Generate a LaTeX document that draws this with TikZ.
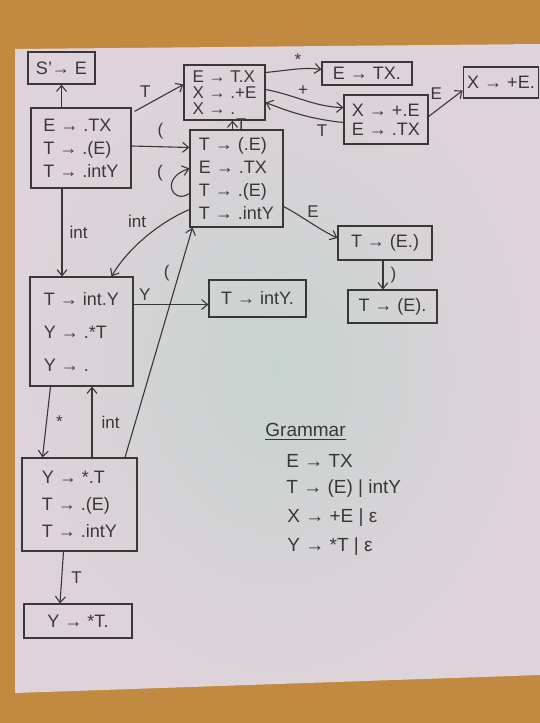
\documentclass[tikz,border=0pt]{standalone}
\usepackage{fontspec}
\setmainfont{Liberation Sans}
\usetikzlibrary{arrows.meta,calc}

\definecolor{cork}{HTML}{C28A40}
\definecolor{paperedge}{HTML}{DED3DA}
\definecolor{papermid}{HTML}{C8D3CF}
\definecolor{ink}{HTML}{3A3739}

\tikzset{
  state/.style={draw=ink, line width=0.6pt, inner sep=2pt, align=left, text=ink,
                font=\fontsize{9}{11.5}\selectfont},
  arr/.style={draw=ink, line width=0.55pt, -{Straight Barb[length=3pt,width=5pt]}},
  lbl/.style={text=ink, font=\fontsize{8.5}{10}\selectfont, inner sep=1.5pt},
  gram/.style={text=ink, anchor=west, inner sep=0pt, font=\fontsize{9.5}{11}\selectfont}
  }

\begin{document}
\begin{tikzpicture}[x=0.5pt,y=-0.5pt]
   \useasboundingbox (0,0) rectangle (540,723);
   % board and sheet
   \fill[cork] (0,0) rectangle (540,723);
   \shade[inner color=papermid, outer color=paperedge]
      (15,49) -- (540,44) -- (540,675) -- (15,693) -- cycle;

   % item sets
   \node[state, minimum width=33.5pt, minimum height=16pt] (sE) at (61.5,68) {S'→ E};
   \node[state, minimum width=50pt, minimum height=40pt] (I0) at (81,148)
      {E → .TX\\T → .(E)\\T → .intY};
   \node[state, minimum width=40.5pt, minimum height=27.5pt, font=\fontsize{8.5}{8}\selectfont]
      (IT) at (224.5,92.5) {E → T.X\\X → .+E\\X → .};
   \node[state, minimum width=46.5pt, minimum height=48.5pt] (Ip) at (236.5,178.5)
      {T → (.E)\\E → .TX\\T → .(E)\\T → .intY};
   \node[state, minimum width=45pt, minimum height=11.5pt, inner sep=1pt] (ETX) at (367,73.5) {E → TX.};
   \node[state, minimum width=42pt, minimum height=24.5pt, font=\fontsize{9}{9.5}\selectfont]
      (Iplus) at (386,119.5) {X → +.E\\E → .TX};
   \node[state, minimum width=36pt, minimum height=15.5pt] (XpE) at (501,82.5) {X → +E.};
   \node[state, minimum width=47pt, minimum height=17pt] (TEd) at (385,243) {T → (E.)};
   \node[state, minimum width=44.5pt, minimum height=16.5pt] (TEr) at (392.5,306.5) {T → (E).};
   \node[state, minimum width=51.5pt, minimum height=54.5pt, font=\fontsize{9}{16.5}\selectfont]
      (Iint) at (81.5,331.5) {T → int.Y\\Y → .*T\\Y → .};
   \node[state, minimum width=48.5pt, minimum height=18.5pt] (TintY) at (257.5,298.5) {T → intY.};
   \node[state, minimum width=57.5pt, minimum height=46.5pt, font=\fontsize{9}{13.5}\selectfont]
      (Istar) at (79.5,504.5) {Y → *.T\\T → .(E)\\T → .intY};
   \node[state, minimum width=54pt, minimum height=17pt] (YsT) at (78,621) {Y → *T.};

   % transitions
   \draw[arr] (sE.south |- I0.north) -- (sE.south);
   \draw[arr] ($(I0.north east)+(3,4)$) -- node[lbl, pos=0.4, above left] {T} ($(IT.west)+(0,-8)$);
   \draw[arr] ($(I0.east)+(0,-2)$) -- node[lbl, pos=0.5, above=2pt] {(} ($(Ip.west)+(0,-31)$);
   \draw[arr] ($(Ip.west)+(0,15)$) .. controls (172,205) and (160,178) .. ($(Ip.west)+(0,-10)$)
      node[lbl] at (160,173) {(};
   \draw[arr] ($(Ip.north)+(-4,0)$) -- node[lbl, right] {T} ($(IT.south)+(8,0)$);
   \draw[arr] ($(IT.east)+(0,-20)$) .. controls (290,70) and (305,67) .. ($(ETX.west)+(0,-4)$)
      node[lbl] at (298,60) {*};
   \draw[arr] ($(IT.east)+(0,-3)$) .. controls (295,95) and (315,107) .. ($(Iplus.west)+(0,-12)$)
      node[lbl] at (303,91) {+};
   \draw[arr] ($(Iplus.west)+(0,3)$) .. controls (310,119) and (290,112) .. ($(IT.east)+(0,10)$)
      node[lbl] at (322,131) {T};
   \draw[arr] ($(Iplus.east)+(0,-3)$) -- node[lbl, above left] {E} ($(XpE.west)+(0,8)$);
   \draw[arr] ($(Ip.east)+(0,28)$) .. controls (300,215) and (320,230) .. ($(TEd.west)+(0,-5)$)
      node[lbl] at (313,212) {E};
   \draw[arr] ($(TEd.south)+(-2,0)$) -- node[lbl, right=2pt] {)} ($(TEr.north)+(-9.5,0)$);
   \draw[arr] ($(I0.south)+(-19,0)$) -- node[lbl, right=2pt] {int} ($(Iint.north)+(-19.5,0)$);
   \draw[arr] ($(Ip.west)+(0,31)$) .. controls (160,222) and (128,248) .. ($(Iint.north)+(30,0)$)
      node[lbl] at (137,221) {int};
   \draw[arr] ($(Iint.east)+(0,-27)$) -- node[lbl, pos=0.15, above] {Y} ($(TintY.west)+(0,6)$);
   \draw[arr] ($(Iint.south)+(-31,0)$) -- node[lbl, right=3pt] {*} ($(Istar.north)+(-37,0)$);
   \draw[arr] ($(Istar.north)+(12.5,0)$) -- node[lbl, right=3pt] {int} ($(Iint.south)+(10.5,0)$);
   \draw[arr] ($(Istar.north)+(45.5,0)$) -- node[lbl, pos=0.8, left=3pt] {(} ($(Ip.south)+(-44,0)$);
   \draw[arr] ($(Istar.south)+(-16,0)$) -- node[lbl, right=3pt] {T} ($(YsT.north)+(-18,0)$);

   % grammar
   \node[gram] (gtitle) at (265,432) {\underline{Grammar}};
   \node[gram] (g1) at (286,461) {E → TX};
   \node[gram] (g2) at (286,489) {T → (E) | intY};
   \node[gram] (g3) at (287,518) {X → +E | ε};
   \node[gram] (g4) at (287,547) {Y → *T | ε};
\end{tikzpicture}
\end{document}
